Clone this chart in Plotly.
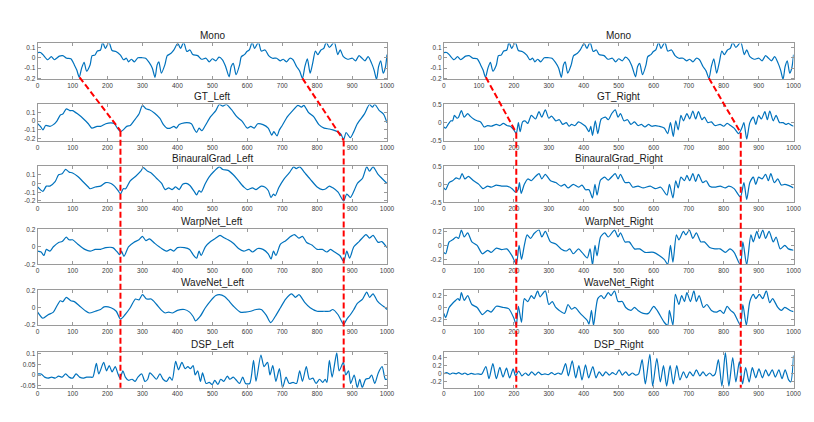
import plotly.graph_objects as go

W, H = 814, 422

# ------------------------------------------------------------------ data
mono_x = [0, 8, 15, 29, 39, 48, 62, 72, 83, 95, 105, 112, 119, 126, 133, 140, 150, 156, 164, 171, 180, 186, 194, 204, 213, 224, 237, 246, 254, 260, 268, 277, 287, 298, 309, 319, 328, 336, 342, 347, 354, 364, 371, 381, 390, 401, 409, 418, 427, 436, 444, 458, 469, 482, 491, 500, 510, 519, 529, 538, 548, 554, 560, 568, 578, 583, 592, 599, 606, 614, 621, 632, 640, 651, 661, 672, 684, 694, 703, 712, 722, 731, 741, 750, 758, 765, 772, 780, 788, 795, 802, 811, 819, 826, 835, 849, 859, 866, 875, 887, 901, 910, 920, 927, 937, 946, 956, 963, 970, 976, 982, 989, 995, 1000]
mono_y = [0.05, 0.05, 0.03, -0.02, 0.01, -0.02, 0.015, 0.02, -0.005, -0.01, -0.07, -0.12, -0.19, -0.1, -0.045, -0.13, -0.07, 0.02, 0.025, 0.065, 0.075, 0.15, 0.09, 0.15, 0.07, 0.06, 0.025, -0.02, -0.005, -0.04, -0.015, -0.04, 0.0, 0.0, -0.005, -0.045, -0.1, -0.19, -0.07, -0.04, -0.15, -0.07, 0.02, 0.04, 0.075, 0.14, 0.09, 0.15, 0.06, 0.075, 0.03, 0.02, -0.015, -0.005, -0.04, -0.01, -0.03, 0.005, -0.02, -0.085, -0.185, -0.085, -0.055, -0.165, -0.07, 0.01, 0.03, 0.06, 0.075, 0.15, 0.09, 0.15, 0.065, 0.075, 0.02, -0.005, -0.005, -0.03, -0.015, -0.04, -0.005, -0.02, -0.085, -0.13, -0.2, -0.085, -0.01, -0.15, -0.04, 0.065, 0.03, 0.075, 0.09, 0.15, 0.1, 0.15, 0.03, 0.075, 0.01, -0.015, -0.005, -0.03, 0.02, 0.0, -0.03, 0.01, -0.055, -0.12, -0.21, -0.085, -0.03, -0.15, -0.1, 0.03]

gtl_x = [0, 8, 15, 23, 35, 45, 55, 65, 72, 82, 92, 100, 115, 130, 145, 155, 170, 180, 195, 210, 220, 228, 237, 245, 255, 265, 275, 290, 300, 310, 320, 335, 350, 360, 370, 380, 390, 397, 405, 420, 440, 448, 455, 462, 470, 480, 495, 510, 520, 530, 540, 555, 570, 585, 600, 610, 620, 630, 645, 660, 670, 676, 685, 692, 700, 715, 730, 745, 755, 762, 775, 790, 805, 820, 835, 845, 858, 868, 876, 883, 895, 905, 915, 935, 950, 958, 965, 978, 990, 1000]
gtl_y = [-0.03, -0.06, -0.1, -0.05, -0.06, -0.04, 0.0, 0.07, 0.08, 0.14, 0.12, 0.12, 0.08, 0.03, -0.03, -0.08, -0.06, -0.06, -0.03, -0.02, -0.03, -0.08, -0.12, -0.1, -0.06, -0.05, 0.0, 0.08, 0.18, 0.14, 0.13, 0.09, 0.03, -0.04, -0.08, -0.08, -0.06, -0.08, -0.04, -0.02, -0.03, -0.09, -0.13, -0.08, -0.11, -0.05, 0.05, 0.12, 0.19, 0.17, 0.19, 0.13, 0.05, 0.0, -0.08, -0.06, -0.08, -0.03, -0.04, -0.08, -0.16, -0.12, -0.17, -0.1, -0.05, 0.05, 0.12, 0.18, 0.16, 0.18, 0.1, 0.05, -0.04, -0.08, -0.09, -0.1, -0.12, -0.15, -0.21, -0.13, -0.19, -0.12, -0.03, 0.08, 0.19, 0.16, 0.19, 0.12, 0.08, -0.02]

bgl_x = [0, 15, 25, 35, 50, 60, 70, 80, 90, 100, 115, 130, 145, 150, 165, 180, 195, 210, 220, 230, 237, 245, 252, 265, 280, 295, 302, 315, 325, 340, 355, 365, 375, 385, 395, 405, 415, 425, 435, 448, 455, 462, 468, 480, 490, 505, 520, 530, 545, 560, 575, 590, 600, 615, 625, 640, 650, 660, 668, 675, 680, 690, 705, 720, 733, 740, 750, 765, 780, 800, 815, 825, 835, 845, 860, 876, 885, 895, 905, 915, 930, 942, 950, 960, 975, 985, 1000]
bgl_y = [-0.04, -0.09, -0.03, -0.03, 0.02, 0.1, 0.11, 0.16, 0.13, 0.12, 0.08, 0.02, -0.04, -0.06, -0.04, -0.03, 0.01, 0.0, -0.03, -0.08, -0.12, -0.06, -0.06, 0.03, 0.08, 0.14, 0.18, 0.14, 0.12, 0.06, 0.0, -0.07, -0.05, -0.07, -0.04, -0.07, -0.01, 0.0, -0.02, -0.09, -0.13, -0.08, -0.1, 0.0, 0.07, 0.14, 0.19, 0.16, 0.15, 0.1, 0.03, -0.04, -0.07, -0.05, -0.07, -0.03, -0.04, -0.08, -0.16, -0.12, -0.14, -0.05, 0.05, 0.12, 0.19, 0.17, 0.19, 0.12, 0.05, -0.04, -0.07, -0.06, -0.03, -0.05, -0.1, -0.2, -0.12, -0.16, -0.09, 0.0, 0.06, 0.19, 0.14, 0.19, 0.1, 0.06, 0.0]

wpl_x = [0, 10, 18, 25, 35, 45, 60, 70, 82, 90, 100, 115, 135, 150, 165, 180, 195, 215, 228, 235, 240, 247, 260, 275, 290, 300, 310, 320, 335, 355, 370, 380, 390, 400, 420, 435, 445, 455, 462, 468, 480, 495, 510, 522, 535, 545, 560, 575, 590, 605, 615, 630, 645, 660, 668, 675, 682, 695, 710, 725, 735, 748, 758, 770, 785, 800, 815, 828, 838, 850, 865, 876, 885, 893, 905, 920, 940, 950, 960, 975, 985, 1000]
wpl_y = [-0.05, -0.06, -0.1, -0.03, -0.05, 0.0, 0.05, 0.06, 0.11, 0.08, 0.08, 0.03, -0.03, -0.05, -0.03, -0.03, -0.01, -0.01, -0.06, -0.09, -0.05, -0.11, 0.0, 0.05, 0.08, 0.12, 0.07, 0.09, 0.04, -0.02, -0.05, -0.03, -0.05, -0.01, -0.01, -0.03, -0.09, -0.13, -0.05, -0.1, 0.0, 0.06, 0.1, 0.13, 0.1, 0.08, 0.04, -0.02, -0.05, -0.03, -0.06, -0.02, -0.03, -0.08, -0.14, -0.05, -0.1, 0.03, 0.07, 0.12, 0.14, 0.1, 0.12, 0.05, 0.02, -0.03, -0.03, -0.06, -0.03, -0.06, -0.1, -0.17, -0.05, -0.13, 0.0, 0.06, 0.14, 0.1, 0.13, 0.05, 0.06, -0.01]

wvl_x = [0, 15, 30, 45, 55, 65, 72, 82, 95, 105, 120, 135, 148, 165, 180, 190, 210, 225, 237, 250, 265, 280, 290, 300, 312, 325, 340, 355, 365, 375, 385, 400, 420, 435, 445, 452, 465, 480, 495, 510, 520, 535, 545, 560, 580, 595, 610, 625, 640, 655, 667, 680, 695, 710, 727, 738, 748, 765, 780, 800, 820, 835, 845, 860, 876, 885, 895, 905, 915, 930, 942, 950, 960, 972, 985, 995, 1000]
wvl_y = [-0.05, -0.12, -0.08, -0.05, 0.02, 0.08, 0.07, 0.12, 0.08, 0.07, 0.02, -0.03, -0.06, -0.04, -0.02, 0.01, 0.0, -0.04, -0.13, -0.08, 0.0, 0.1, 0.09, 0.15, 0.1, 0.1, 0.04, -0.03, -0.06, -0.05, -0.06, -0.03, -0.02, -0.05, -0.1, -0.15, -0.1, 0.0, 0.08, 0.14, 0.15, 0.13, 0.09, 0.02, -0.05, -0.05, -0.04, -0.02, -0.02, -0.09, -0.17, -0.1, 0.0, 0.1, 0.16, 0.12, 0.15, 0.06, 0.0, -0.04, -0.04, -0.04, -0.02, -0.08, -0.19, -0.13, -0.08, -0.02, 0.05, 0.1, 0.18, 0.12, 0.16, 0.08, 0.03, 0.0, -0.02]

dspl_x = [0, 10, 20, 30, 40, 50, 60, 70, 80, 90, 100, 110, 120, 130, 140, 150, 158, 168, 175, 189, 197, 205, 213, 222, 229, 236, 244, 251, 260, 270, 279, 287, 298, 307, 315, 321, 331, 340, 350, 359, 369, 378, 385, 395, 403, 413, 422, 430, 437, 445, 451, 458, 466, 472, 482, 491, 500, 507, 516, 524, 533, 543, 550, 560, 569, 578, 587, 595, 607, 618, 625, 639, 648, 658, 665, 673, 682, 692, 701, 711, 720, 731, 741, 750, 758, 769, 778, 788, 797, 807, 816, 823, 828, 835, 843, 856, 863, 875, 882, 890, 896, 906, 915, 922, 929, 939, 949, 956, 965, 975, 986, 995, 1000]
dspl_y = [0.005, 0.005, -0.01, -0.015, -0.01, -0.015, -0.005, -0.01, 0.005, -0.01, -0.015, 0.005, -0.01, -0.015, -0.01, -0.01, -0.01, 0.055, 0.005, 0.06, 0.02, 0.045, 0.015, 0.04, 0.01, -0.015, 0.02, -0.01, -0.025, -0.02, -0.03, -0.01, 0.005, -0.03, -0.02, 0.01, -0.005, -0.02, 0.005, -0.02, -0.03, -0.01, -0.025, 0.065, 0.025, 0.06, 0.03, 0.04, 0.03, 0.045, 0.0, 0.02, -0.03, 0.01, -0.04, -0.035, -0.045, -0.025, -0.045, -0.02, -0.03, -0.005, -0.02, -0.01, -0.025, -0.04, -0.01, -0.04, -0.04, 0.07, -0.03, 0.095, 0.04, 0.06, 0.0, 0.045, -0.03, 0.03, -0.06, -0.01, -0.04, -0.035, -0.04, 0.02, -0.03, 0.04, -0.02, -0.015, -0.04, -0.02, -0.035, -0.02, -0.035, 0.07, -0.01, 0.105, 0.02, 0.06, 0.0, 0.02, -0.04, 0.0, -0.06, -0.02, -0.06, -0.02, -0.015, 0.0, -0.04, 0.01, 0.04, -0.02, -0.02]

gtr_x = [0, 5, 12, 20, 25, 30, 38, 42, 50, 58, 68, 75, 85, 95, 105, 115, 125, 135, 150, 160, 170, 180, 190, 200, 207, 213, 218, 225, 232, 240, 250, 262, 272, 280, 290, 300, 308, 320, 330, 340, 350, 358, 365, 375, 385, 395, 405, 415, 420, 425, 433, 440, 450, 462, 470, 480, 490, 498, 505, 515, 525, 535, 545, 555, 565, 575, 585, 595, 605, 615, 630, 640, 648, 656, 663, 670, 678, 685, 695, 703, 712, 720, 728, 738, 745, 755, 765, 775, 790, 800, 810, 820, 830, 843, 852, 858, 866, 875, 885, 892, 900, 908, 918, 925, 932, 942, 950, 960, 970, 978, 985, 995, 1000]
gtr_y = [-0.12, -0.15, -0.05, 0.05, 0.05, 0.2, 0.12, 0.15, 0.33, 0.15, 0.25, 0.18, 0.1, 0.05, 0.02, -0.12, -0.08, -0.1, -0.05, -0.08, -0.02, -0.08, -0.1, -0.2, -0.3, 0.0, -0.25, 0.02, 0.05, -0.02, 0.2, 0.1, 0.3, 0.15, 0.35, 0.12, 0.18, 0.05, 0.08, -0.05, 0.0, -0.1, -0.05, -0.08, 0.02, -0.03, -0.1, -0.25, -0.1, -0.35, 0.05, -0.3, 0.1, 0.15, 0.08, 0.25, 0.35, 0.15, 0.25, 0.05, 0.08, -0.05, 0.02, -0.08, -0.05, -0.12, -0.05, -0.1, -0.08, -0.1, -0.15, -0.3, 0.0, -0.38, 0.05, -0.2, 0.2, 0.05, 0.25, 0.1, 0.32, 0.1, 0.3, 0.08, 0.15, 0.0, 0.02, -0.08, -0.05, -0.1, -0.02, -0.08, -0.15, -0.3, -0.15, 0.0, -0.45, 0.0, 0.15, -0.05, 0.2, 0.1, 0.3, 0.08, 0.32, 0.05, 0.2, 0.0, 0.0, -0.05, -0.02, -0.08, -0.1]

bgr_x = [0, 5, 15, 25, 35, 45, 52, 60, 70, 85, 100, 112, 125, 135, 150, 165, 180, 195, 205, 212, 216, 221, 230, 240, 250, 260, 272, 280, 290, 305, 320, 335, 345, 355, 370, 385, 395, 405, 415, 425, 432, 438, 448, 460, 470, 490, 498, 505, 518, 530, 540, 555, 570, 590, 605, 620, 638, 645, 655, 663, 670, 678, 688, 695, 703, 712, 720, 728, 740, 750, 760, 775, 790, 805, 815, 830, 848, 858, 866, 875, 885, 892, 900, 910, 920, 928, 935, 945, 955, 965, 975, 985, 1000]
bgr_y = [-0.1, -0.15, 0.05, 0.1, 0.18, 0.15, 0.3, 0.15, 0.22, 0.1, 0.0, -0.12, -0.05, -0.08, -0.02, -0.05, -0.05, -0.12, -0.22, -0.15, 0.05, -0.25, 0.0, 0.15, 0.1, 0.2, 0.3, 0.15, 0.28, 0.1, 0.05, -0.05, 0.0, -0.1, 0.0, -0.08, -0.02, -0.15, -0.15, -0.38, 0.0, -0.3, 0.12, 0.2, 0.12, 0.3, 0.15, 0.28, 0.05, 0.05, -0.08, -0.05, -0.1, -0.05, -0.12, -0.08, -0.3, 0.0, -0.38, 0.1, -0.1, 0.2, 0.1, 0.25, 0.1, 0.3, 0.08, 0.28, 0.05, 0.1, -0.05, -0.08, -0.05, -0.1, -0.05, -0.12, -0.35, 0.05, -0.42, 0.05, 0.2, 0.0, 0.2, 0.15, 0.28, 0.1, 0.3, 0.05, 0.15, -0.02, 0.0, -0.03, -0.1]

wpr_x = [0, 5, 15, 25, 35, 42, 50, 58, 68, 80, 95, 110, 125, 135, 150, 165, 180, 195, 207, 215, 222, 230, 238, 248, 258, 272, 280, 290, 305, 320, 335, 350, 360, 370, 385, 395, 410, 418, 425, 432, 438, 448, 460, 470, 488, 498, 505, 518, 530, 545, 560, 575, 600, 630, 640, 648, 655, 665, 672, 685, 692, 702, 712, 722, 735, 745, 760, 775, 790, 805, 818, 830, 848, 855, 866, 878, 885, 895, 902, 912, 920, 930, 942, 950, 962, 975, 985, 1000]
wpr_y = [-0.1, -0.12, 0.05, 0.08, 0.12, 0.1, 0.22, 0.12, 0.18, 0.05, 0.0, -0.12, -0.07, -0.1, -0.04, -0.06, -0.05, -0.15, -0.27, 0.0, -0.2, 0.0, 0.15, 0.1, 0.17, 0.22, 0.12, 0.2, 0.05, 0.02, -0.05, -0.08, -0.05, -0.12, -0.05, -0.1, -0.18, -0.05, -0.28, 0.0, -0.15, 0.12, 0.18, 0.12, 0.22, 0.12, 0.18, 0.05, 0.05, -0.05, -0.05, -0.1, -0.1, -0.2, -0.27, 0.0, -0.24, 0.15, 0.08, 0.2, 0.15, 0.22, 0.1, 0.18, 0.05, 0.05, -0.03, -0.05, -0.05, -0.1, -0.05, -0.1, -0.28, 0.05, -0.28, 0.15, 0.05, 0.2, 0.1, 0.22, 0.1, 0.2, 0.05, 0.12, -0.05, 0.0, -0.05, -0.07]

wvr_x = [0, 5, 15, 22, 30, 40, 45, 50, 58, 68, 80, 95, 110, 125, 135, 150, 170, 185, 200, 207, 213, 222, 230, 240, 250, 258, 268, 275, 290, 300, 310, 320, 330, 345, 355, 365, 375, 390, 410, 415, 422, 428, 440, 450, 458, 470, 478, 488, 498, 510, 520, 535, 545, 555, 570, 585, 600, 610, 630, 640, 645, 655, 662, 672, 680, 688, 695, 705, 715, 722, 730, 742, 752, 765, 780, 790, 800, 810, 820, 830, 848, 855, 865, 875, 885, 892, 902, 912, 922, 932, 940, 955, 965, 975, 990, 1000]
wvr_y = [-0.1, -0.17, 0.0, 0.05, 0.1, 0.15, 0.12, 0.25, 0.12, 0.2, 0.05, 0.0, -0.12, -0.05, -0.08, 0.02, 0.0, -0.02, -0.18, -0.3, 0.02, -0.25, 0.15, 0.1, 0.2, 0.15, 0.28, 0.18, 0.28, 0.05, 0.1, 0.0, -0.05, -0.1, 0.05, -0.03, 0.0, -0.1, -0.22, -0.28, -0.05, -0.3, 0.15, 0.2, 0.15, 0.25, 0.2, 0.28, 0.1, 0.1, 0.0, -0.05, 0.0, -0.05, -0.1, -0.1, 0.02, -0.05, -0.25, -0.3, -0.05, -0.3, 0.22, 0.05, 0.2, 0.1, 0.25, 0.1, 0.28, 0.1, 0.2, 0.0, 0.05, -0.05, -0.08, -0.05, -0.1, 0.02, -0.05, -0.1, -0.3, 0.05, -0.3, 0.1, 0.22, 0.15, 0.22, 0.15, 0.28, 0.08, 0.15, 0.0, -0.05, 0.0, -0.05, -0.07]

dspr_x = [0, 8, 18, 25, 35, 42, 52, 60, 68, 78, 88, 98, 108, 120, 129, 140, 150, 160, 169, 179, 188, 198, 205, 214, 223, 233, 242, 251, 261, 270, 280, 289, 298, 308, 317, 327, 336, 348, 356, 367, 377, 386, 395, 405, 414, 426, 435, 444, 454, 463, 473, 482, 492, 501, 510, 520, 529, 539, 548, 557, 567, 576, 589, 597, 609, 619, 628, 637, 647, 656, 666, 675, 685, 694, 703, 713, 722, 732, 741, 750, 760, 769, 776, 785, 795, 805, 815, 826, 835, 845, 854, 863, 873, 882, 892, 901, 911, 920, 929, 939, 948, 958, 967, 976, 986, 992, 1000]
dspr_y = [0.0, 0.03, -0.01, 0.02, 0.0, 0.03, -0.01, 0.02, -0.02, 0.01, -0.01, 0.0, -0.01, 0.18, -0.12, 0.25, -0.12, 0.16, -0.08, 0.14, -0.1, 0.12, -0.05, 0.07, -0.05, 0.02, -0.04, 0.05, -0.03, 0.04, -0.02, 0.0, -0.02, 0.03, -0.02, 0.02, -0.01, 0.25, -0.05, 0.32, -0.1, 0.2, -0.15, 0.22, -0.1, 0.18, -0.1, 0.05, -0.05, 0.05, -0.03, 0.03, -0.02, 0.1, -0.03, 0.05, -0.04, 0.02, -0.03, 0.0, 0.35, -0.25, 0.48, -0.3, 0.38, -0.2, 0.2, -0.3, 0.2, -0.25, 0.2, -0.15, 0.05, -0.1, 0.05, -0.05, 0.1, -0.05, 0.05, -0.05, 0.02, -0.05, 0.0, 0.35, -0.3, 0.52, -0.3, 0.4, -0.2, 0.3, -0.25, 0.15, -0.2, 0.15, -0.1, 0.12, -0.1, 0.1, -0.05, 0.1, -0.08, 0.1, -0.12, 0.1, -0.15, -0.2, 0.45]

titles_left = ["Mono", "GT_Left", "BinauralGrad_Left", "WarpNet_Left", "WaveNet_Left", "DSP_Left"]
titles_right = ["Mono", "GT_Right", "BinauralGrad_Right", "WarpNet_Right", "WaveNet_Right", "DSP_Right"]

series_left = [(mono_x, mono_y), (gtl_x, gtl_y), (bgl_x, bgl_y), (wpl_x, wpl_y), (wvl_x, wvl_y), (dspl_x, dspl_y)]
series_right = [(mono_x, mono_y), (gtr_x, gtr_y), (bgr_x, bgr_y), (wpr_x, wpr_y), (wvr_x, wvr_y), (dspr_x, dspr_y)]

x_ticks = [0, 100, 200, 300, 400, 500, 600, 700, 800, 900, 1000]

yticks_left = [[-0.2, -0.1, 0, 0.1], [-0.2, -0.1, 0, 0.1], [-0.2, -0.1, 0, 0.1],
               [-0.2, 0, 0.2], [-0.2, 0, 0.2], [-0.05, 0, 0.05, 0.1]]
ylabels_left = [["-0.2", "-0.1", "0", "0.1"], ["-0.2", "-0.1", "0", "0.1"], ["-0.2", "-0.1", "0", "0.1"],
                ["-0.2", "0", "0.2"], ["-0.2", "0", "0.2"], ["-0.05", "0", "0.05", "0.1"]]
yranges_left = [[-0.21, 0.138], [-0.225, 0.19], [-0.215, 0.195], [-0.2, 0.2], [-0.2, 0.2], [-0.06, 0.108]]

yticks_right = [[-0.2, -0.1, 0, 0.1], [-0.5, 0, 0.5], [-0.5, 0, 0.5],
                [-0.2, 0, 0.2], [-0.2, 0, 0.2], [-0.2, 0, 0.2, 0.4]]
ylabels_right = [["-0.2", "-0.1", "0", "0.1"], ["-0.5", "0", "0.5"], ["-0.5", "0", "0.5"],
                 ["-0.2", "0", "0.2"], ["-0.2", "0", "0.2"], ["-0.2", "0", "0.2", "0.4"]]
yranges_right = [[-0.21, 0.138], [-0.5, 0.5], [-0.5, 0.5], [-0.27, 0.23], [-0.3, 0.29], [-0.34, 0.53]]

# alignment markers (Mono point -> GT point), per column
left_src_x = [120, 758]
left_src_y = [-0.19, -0.2]
left_dst_x = [237, 876]
left_dst_y = [-0.11, -0.22]
right_src_x = [120, 758]
right_src_y = [-0.19, -0.2]
right_dst_x = [207, 849]
right_dst_y = [-0.28, -0.28]

# ------------------------------------------------------------------ layout geometry (pixels)
col_px = [(28.0, 381.7), (439.3, 793.3)]
row_px = [(32, 68.5), (94, 131), (157, 193.5), (221, 256.5), (283, 318.5), (346, 382)]

LINE_BLUE = "#0072BD"
AX_COL = "#9a9a9a"
TXT_COL = "#3c3c3c"

fig = go.Figure()
layout = dict(width=W, height=H, margin=dict(l=0, r=0, t=0, b=0), autosize=False,
              paper_bgcolor="white", plot_bgcolor="white", showlegend=False,
              font=dict(family="Liberation Sans, Arial, sans-serif", color=TXT_COL))
annotations = []
shapes = []


def ypaper(px):
    return 1 - px / H


def val_to_paper(row, rng, v):
    top, bot = row_px[row]
    px = bot - (v - rng[0]) / (rng[1] - rng[0]) * (bot - top)
    return ypaper(px)


cols = [(series_left, titles_left, yticks_left, ylabels_left, yranges_left),
        (series_right, titles_right, yticks_right, ylabels_right, yranges_right)]

for c, (series, titles, yt, yl, yr) in enumerate(cols):
    for r in range(6):
        k = 2 * r + c + 1
        sx, sy = series[r]
        fig.add_trace(go.Scatter(x=sx, y=sy, mode="lines", xaxis=f"x{k}", yaxis=f"y{k}",
                                 line=dict(color=LINE_BLUE, width=1.2, shape="spline", smoothing=0.7),
                                 hoverinfo="skip"))
        x0, x1 = col_px[c]
        top, bot = row_px[r]
        common = dict(showgrid=False, zeroline=False, showline=True, linecolor=AX_COL, linewidth=1,
                      mirror="ticks", ticks="inside", ticklen=3, tickcolor=AX_COL, tickwidth=1,
                      tickfont=dict(size=6.5, color=TXT_COL, family="Liberation Sans, Arial, sans-serif"))
        layout[f"xaxis{k}"] = dict(domain=[x0 / W, x1 / W], anchor=f"y{k}", range=[0, 1000],
                                   tickmode="array", tickvals=x_ticks, ticktext=[str(v) for v in x_ticks],
                                   **common)
        layout[f"yaxis{k}"] = dict(domain=[ypaper(bot), ypaper(top)], anchor=f"x{k}", range=yr[r],
                                   tickmode="array", tickvals=yt[r], ticktext=yl[r], **common)
        annotations.append(dict(text=titles[r], x=(x0 + x1) / 2 / W, y=ypaper(top - 8),
                                xref="paper", yref="paper", xanchor="center", yanchor="middle",
                                showarrow=False, font=dict(size=10, color="#1a1a1a")))

marks = [(0, left_src_x, left_src_y, left_dst_x, left_dst_y),
         (1, right_src_x, right_src_y, right_dst_x, right_dst_y)]
for c, sxs, sys_, dxs, dys in marks:
    xref = "x1" if c == 0 else "x2"
    yr = yranges_left if c == 0 else yranges_right
    for sx, sy, dx, dy in zip(sxs, sys_, dxs, dys):
        p0 = val_to_paper(0, yr[0], sy)
        p1 = val_to_paper(1, yr[1], dy)
        p2 = ypaper(row_px[5][1])
        style = dict(color="#ff0000", width=2, dash="6px,3px")
        shapes.append(dict(type="line", xref=xref, yref="paper", x0=sx, y0=p0, x1=dx, y1=p1, line=style, layer="above"))
        shapes.append(dict(type="line", xref=xref, yref="paper", x0=dx, y0=p1, x1=dx, y1=p2, line=style, layer="above"))

layout["annotations"] = annotations
layout["shapes"] = shapes
fig.update_layout(**layout)
fig.write_html("out.html")
